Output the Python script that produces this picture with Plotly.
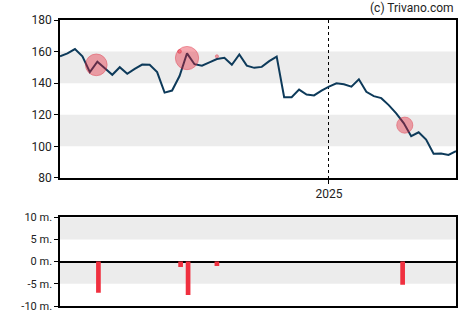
import pandas as pd
import plotly.graph_objects as go
from plotly.subplots import make_subplots

start_date = "2024-04-24"
prices = [157, 158.9, 161.6, 157, 147, 153.6, 149.5, 145.3, 150.1, 145.9,
          149, 151.8, 151.6, 147, 134, 135.3, 144.5, 158.9, 152, 151.1,
          153.2, 155.3, 156.1, 151.6, 158.2, 151.1, 149.7, 150.3, 153.9, 156.8,
          131.1, 131.1, 135.9, 132.8, 132.2, 135.3, 137.8, 139.9, 139.3, 137.8,
          142.4, 134.5, 131.8, 130.5, 126.1, 120.9, 114.7, 106.4, 108.9, 104.3,
          95.3, 95.5, 94.5, 97]
dates = pd.date_range(start_date, periods=len(prices), freq="7D")

trade_dates = ["2024-05-30", "2024-08-15", "2024-08-22", "2024-09-18", "2025-03-11"]
trade_volumes_m = [-7.0, -1.2, -7.5, -1.0, -5.2]
marker_dates = ["2024-05-28", "2024-08-14", "2024-08-21", "2024-09-18", "2025-03-13"]
marker_prices = [151.6, 160.1, 155.9, 157.0, 113.4]

price_ticks = [80, 100, 120, 140, 160, 180]
vol_ticks = [-10, -5, 0, 5, 10]
vol_ticktext = ["-10 m.", "-5 m.", "0 m.", "5 m.", "10 m."]

fig = make_subplots(rows=2, cols=1, shared_xaxes=False, vertical_spacing=0.0)

fig.add_trace(go.Scatter(x=dates, y=prices, mode="lines",
                         line=dict(color="#0d3a5a", width=2), hoverinfo="skip"),
              row=1, col=1)
fig.add_trace(go.Scatter(x=pd.to_datetime(marker_dates), y=marker_prices, mode="markers",
                         marker=dict(size=[abs(v) * 3.1 for v in trade_volumes_m],
                                     color="rgba(232,30,50,0.55)",
                                     line=dict(color="rgba(220,30,50,0.6)", width=1)),
                         hoverinfo="skip"),
              row=1, col=1)
fig.add_trace(go.Bar(x=pd.to_datetime(trade_dates), y=trade_volumes_m,
                     marker=dict(color="#f0303f", line=dict(width=0)),
                     width=4.4 * 86400000, hoverinfo="skip"),
              row=2, col=1)

xr = [dates[0], dates[-1]]
font = dict(family="Roboto, Arial, sans-serif", size=12, color="#222")

fig.update_layout(
    width=470, height=325, showlegend=False,
    margin=dict(l=60, r=14, t=20, b=15),
    plot_bgcolor="white", paper_bgcolor="white",
    font=font,
    xaxis=dict(domain=[0, 1], range=xr, type="date",
               tickvals=[pd.Timestamp("2025-01-01")], ticktext=["2025"],
               showgrid=True, gridcolor="black", griddash="dot", gridwidth=1,
               ticks="outside", ticklen=4, tickcolor="black",
               showline=True, linecolor="black", linewidth=1.5, mirror=True,
               zeroline=False, anchor="y"),
    yaxis=dict(domain=[0.448, 1], range=[80, 180], tickvals=price_ticks,
               showgrid=False, zeroline=False,
               ticks="outside", ticklen=4, tickcolor="black",
               showline=True, linecolor="black", linewidth=1.5, mirror=True,
               anchor="x"),
    xaxis2=dict(domain=[0, 1], range=xr, type="date", showticklabels=False,
                showgrid=False, ticks="", zeroline=False,
                showline=True, linecolor="black", linewidth=1.5, mirror=True,
                anchor="y2"),
    yaxis2=dict(domain=[0, 0.3103], range=[-10, 10], tickvals=vol_ticks,
                ticktext=vol_ticktext, showgrid=False,
                zeroline=True, zerolinecolor="black", zerolinewidth=1.5,
                ticks="outside", ticklen=4, tickcolor="black",
                showline=True, linecolor="black", linewidth=1.5, mirror=True,
                tickfont=dict(size=11), anchor="x2"),
)

bands_top = [(100, 120), (140, 160)]
for lo, hi in bands_top:
    fig.add_shape(type="rect", xref="x domain", yref="y", x0=0, x1=1, y0=lo, y1=hi,
                  fillcolor="#ececec", line=dict(width=0), layer="below")
bands_bot = [(-5, 0), (5, 10)]
for lo, hi in bands_bot:
    fig.add_shape(type="rect", xref="x2 domain", yref="y2", x0=0, x1=1, y0=lo, y1=hi,
                  fillcolor="#ececec", line=dict(width=0), layer="below")

fig.add_annotation(text="(c) Trivano.com", xref="paper", yref="paper",
                   x=1, y=1.041, xanchor="right", yanchor="middle", showarrow=False,
                   font=dict(family="Roboto, Arial, sans-serif", size=12, color="#222"))

fig.write_html("out.html")
